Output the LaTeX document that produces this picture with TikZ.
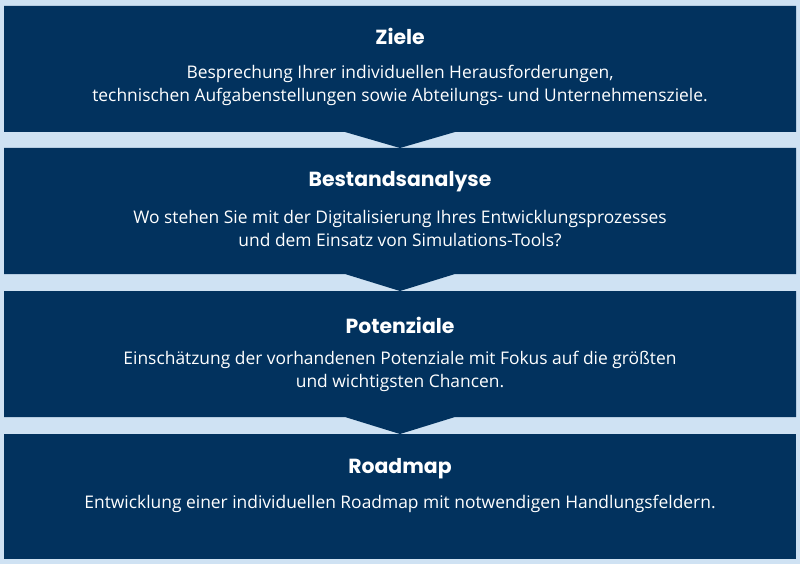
\documentclass[tikz,border=0pt]{standalone}
\usepackage{fontspec}
\setmainfont{Open Sans}
\newfontfamily\titlefont{Poppins}
\definecolor{bgblue}{HTML}{CFE2F3}
\definecolor{navy}{HTML}{02325E}
\begin{document}
\begin{tikzpicture}[x=1pt,y=-1pt,
  stage/.style={fill=navy},
  ttl/.style={text=white,font=\titlefont\bfseries\fontsize{20.4}{24}\selectfont,anchor=center,inner sep=0},
  body/.style={text=white,font=\fontsize{17.4}{23}\selectfont,align=center,anchor=center,inner sep=0}]
\fill[bgblue] (0,0) rectangle (800,564);
\useasboundingbox (0,0) rectangle (800,564);
\fill[stage] (4,6) -- (796,6) -- (796,132) -- (455,132) -- (400,148) -- (345,132) -- (4,132) -- cycle;
\fill[stage] (4,148) -- (796,148) -- (796,274) -- (455,274) -- (400,291) -- (345,274) -- (4,274) -- cycle;
\fill[stage] (4,291) -- (796,291) -- (796,417) -- (455,417) -- (400,434) -- (345,417) -- (4,417) -- cycle;
\fill[stage] (4,434) rectangle (796,559);
\node[ttl] (t1) at (400,36.5) {Ziele};
\node[body] (b1) at (400,85) {Besprechung Ihrer individuellen Herausforderungen,\\technischen Aufgabenstellungen sowie Abteilungs- und Unternehmensziele.};
\node[ttl] (t2) at (400,181.5) {Bestandsanalyse};
\node[body] (b2) at (400,228.5) {Wo stehen Sie mit der Digitalisierung Ihres Entwicklungsprozesses\\und dem Einsatz von Simulations-Tools?};
\node[ttl] (t3) at (400,325.5) {Potenziale};
\node[body] (b3) at (400,371) {Einschätzung der vorhandenen Potenziale mit Fokus auf die größten\\und wichtigsten Chancen.};
\node[ttl] (t4) at (400,468.5) {Roadmap};
\node[body] (b4) at (400,503.5) {Entwicklung einer individuellen Roadmap mit notwendigen Handlungsfeldern.};
\end{tikzpicture}
\end{document}
